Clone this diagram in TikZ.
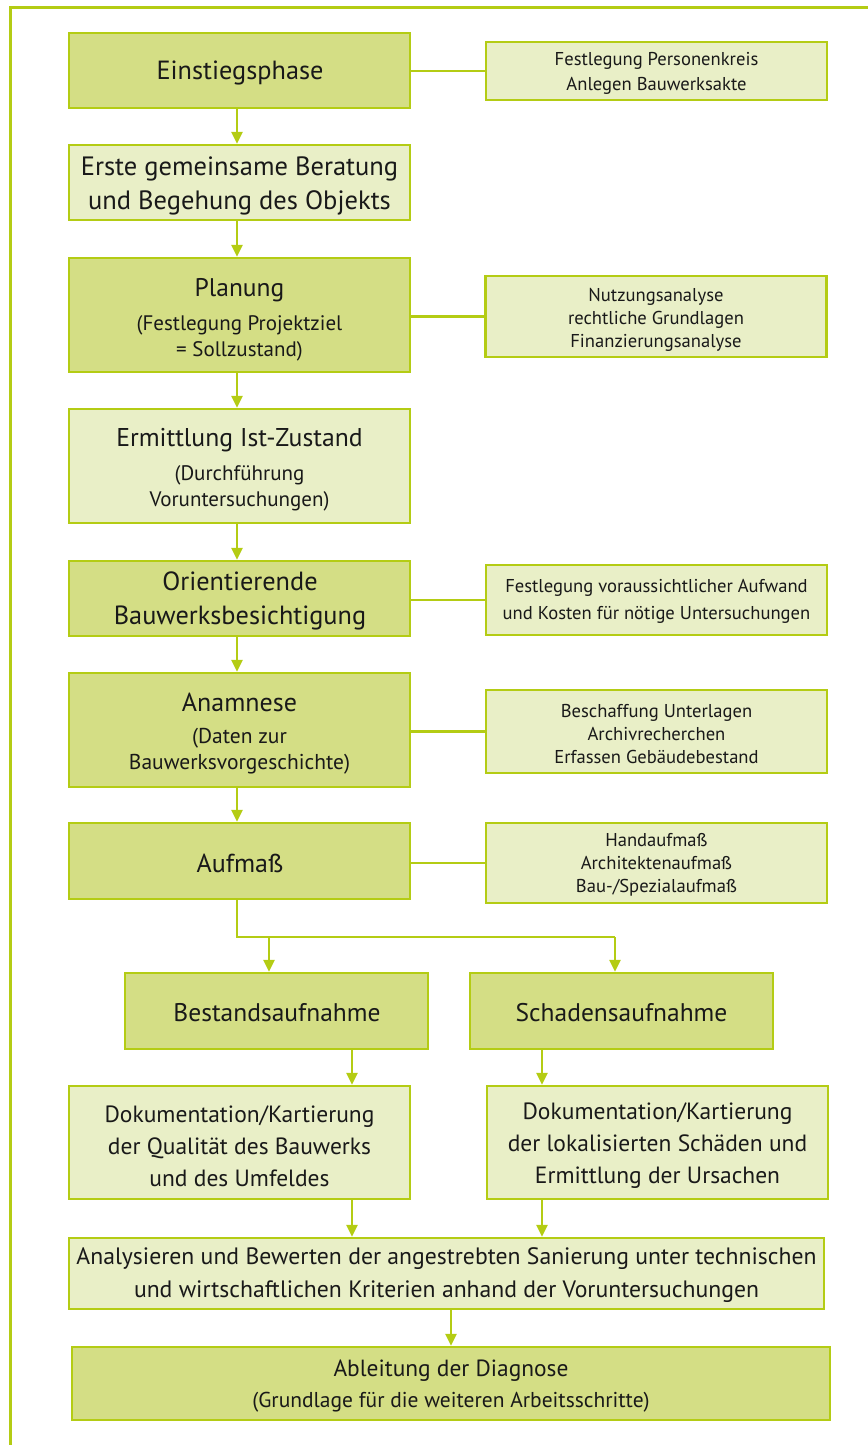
\documentclass[tikz,border=0pt]{standalone}
\usepackage{fontspec}
\setmainfont{PT Sans}
\usetikzlibrary{arrows.meta}
\definecolor{lime}{RGB}{180,204,20}
\definecolor{darkfill}{RGB}{212,222,133}
\definecolor{lightfill}{RGB}{233,239,199}
\newcommand{\fsz}[2]{\fontsize{#1}{#2}\selectfont}
\begin{document}
\begin{tikzpicture}[x=1pt,y=-1pt,
  base/.style={draw=lime,line width=2.5pt,inner sep=0pt},
  dbox/.style={base,fill=darkfill},
  lbox/.style={base,fill=lightfill},
  sbox/.style={base,fill=lightfill,minimum width=341pt},
  txt/.style={align=center,inner sep=0pt,text=black!90},
  stxt/.style={txt,font=\fsz{18.6}{23}},
  conn/.style={draw=lime,line width=2.5pt},
  arr/.style={conn,-{Triangle[width=11pt,length=12pt]}}
]
\useasboundingbox (0,0) rectangle (867,1445);
\draw[lime,line width=3pt] (10,1450) -- (10,8) -- (875,8);

% boxes
\node[dbox,minimum width=341pt,minimum height=75pt] (n1) at (239.5,70.5) {};
\node[sbox,minimum height=58pt] (s1) at (656.5,71) {};
\node[lbox,minimum width=341pt,minimum height=75pt] (n2) at (239.5,182.5) {};
\node[dbox,minimum width=341pt,minimum height=114pt] (n3) at (239.5,315) {};
\node[sbox,minimum height=81pt] (s3) at (656,316.5) {};
\node[lbox,minimum width=341pt,minimum height=114pt] (n4) at (239.5,466) {};
\node[dbox,minimum width=341pt,minimum height=75pt] (n5) at (239.5,598.5) {};
\node[sbox,minimum height=70pt] (s5) at (656.5,600) {};
\node[dbox,minimum width=341pt,minimum height=114pt] (n6) at (239.5,730) {};
\node[sbox,minimum height=83pt] (s6) at (656.5,731.5) {};
\node[dbox,minimum width=341pt,minimum height=76pt] (n7) at (239.5,861) {};
\node[sbox,minimum height=80pt] (s7) at (656.5,863) {};
\node[dbox,minimum width=303pt,minimum height=76pt] (n8a) at (276.5,1011) {};
\node[dbox,minimum width=303pt,minimum height=76pt] (n8b) at (621.5,1011) {};
\node[lbox,minimum width=341pt,minimum height=113pt] (n9a) at (239.5,1142.5) {};
\node[lbox,minimum width=341pt,minimum height=113pt] (n9b) at (657.5,1142.5) {};
\node[lbox,minimum width=755pt,minimum height=71pt] (n10) at (446.5,1273.5) {};
\node[dbox,minimum width=758pt,minimum height=73pt] (n11) at (451,1383.5) {};

% texts
\node[txt,font=\fsz{26.3}{34}] (n1t) at (240,73) {Einstiegsphase};
\node[stxt,font=\fsz{18.6}{25}] (s1t) at (656.5,73) {Festlegung Personenkreis\\Anlegen Bauwerksakte};
\node[txt,font=\fsz{26.5}{34}] (n2t) at (239.5,185.5) {Erste gemeinsame Beratung\\und Begehung des Objekts};
\node[txt,font=\fsz{21}{26}] (n3t) at (239.5,320) {{\fsz{25.5}{34}Planung}\\[8pt](Festlegung Projektziel\\= Sollzustand)};
\node[stxt] (s3t) at (656,320) {Nutzungsanalyse\\rechtliche Grundlagen\\Finanzierungsanalyse};
\node[txt,font=\fsz{21}{26}] (n4t) at (239.5,470) {{\fsz{25.7}{34}Ermittlung Ist-Zustand}\\[8pt](Durchführung\\Voruntersuchungen)};
\node[txt,font=\fsz{26.3}{34}] (n5t) at (240,601) {Orientierende\\Bauwerksbesichtigung};
\node[stxt,font=\fsz{18.6}{27}] (s5t) at (656.5,601) {Festlegung voraussichtlicher Aufwand\\und Kosten für nötige Untersuchungen};
\node[txt,font=\fsz{21.5}{26}] (n6t) at (239.5,734) {{\fsz{26}{34}Anamnese}\\[6pt](Daten zur\\Bauwerksvorgeschichte)};
\node[stxt] (s6t) at (656.5,734) {Beschaffung Unterlagen\\Archivrecherchen\\Erfassen Gebäudebestand};
\node[txt,font=\fsz{26}{34}] (n7t) at (240,863) {Aufmaß};
\node[stxt] (s7t) at (656.5,865) {Handaufmaß\\Architektenaufmaß\\Bau-/Spezialaufmaß};
\node[txt,font=\fsz{25.5}{34}] (n8at) at (277,1013) {Bestandsaufnahme};
\node[txt,font=\fsz{25.5}{34}] (n8bt) at (621.5,1013) {Schadensaufnahme};
\node[txt,font=\fsz{23.5}{32}] (n9at) at (239.5,1146) {Dokumentation/Kartierung\\der Qualität des Bauwerks\\und des Umfeldes};
\node[txt,font=\fsz{23.5}{32}] (n9bt) at (657.5,1146) {Dokumentation/Kartierung\\der lokalisierten Schäden und\\Ermittlung der Ursachen};
\node[txt,font=\fsz{23.7}{33}] (n10t) at (446.5,1275) {Analysieren und Bewerten der angestrebten Sanierung unter technischen\\und wirtschaftlichen Kriterien anhand der Voruntersuchungen};
\node[txt,font=\fsz{21.5}{26}] (n11t) at (451,1386) {{\fsz{23.4}{30}Ableitung der Diagnose}\\[5pt](Grundlage für die weiteren Arbeitsschritte)};

% side connectors
\draw[conn] (n1.east |- s1.west) -- (s1.west);
\draw[conn] (n3.east |- s3.west) -- (s3.west);
\draw[conn] (n5.east |- s5.west) -- (s5.west);
\draw[conn] (n6.east |- s6.west) -- (s6.west);
\draw[conn] (n7.east |- s7.west) -- (s7.west);

% main flow
\draw[arr] (237,0 |- n1.south) -- (237,0 |- n2.north);
\draw[arr] (237,0 |- n2.south) -- (237,0 |- n3.north);
\draw[arr] (237,0 |- n3.south) -- (237,0 |- n4.north);
\draw[arr] (237,0 |- n4.south) -- (237,0 |- n5.north);
\draw[arr] (237,0 |- n5.south) -- (237,0 |- n6.north);
\draw[arr] (237,0 |- n6.south) -- (237,0 |- n7.north);

\coordinate (sp) at (237,937);
\coordinate (sr) at (615,937);
\draw[conn] (237,0 |- n7.south) -- (sp) -- (sr);
\draw[arr] (269,937) -- (269,0 |- n8a.north);
\draw[arr] (sr) -- (615,0 |- n8b.north);

\draw[arr] (352,0 |- n8a.south) -- (352,0 |- n9a.north);
\draw[arr] (542,0 |- n8b.south) -- (542,0 |- n9b.north);
\draw[arr] (352,0 |- n9a.south) -- (352,0 |- n10.north);
\draw[arr] (542,0 |- n9b.south) -- (542,0 |- n10.north);
\draw[arr] (451,0 |- n10.south) -- (451,0 |- n11.north);
\end{tikzpicture}
\end{document}
